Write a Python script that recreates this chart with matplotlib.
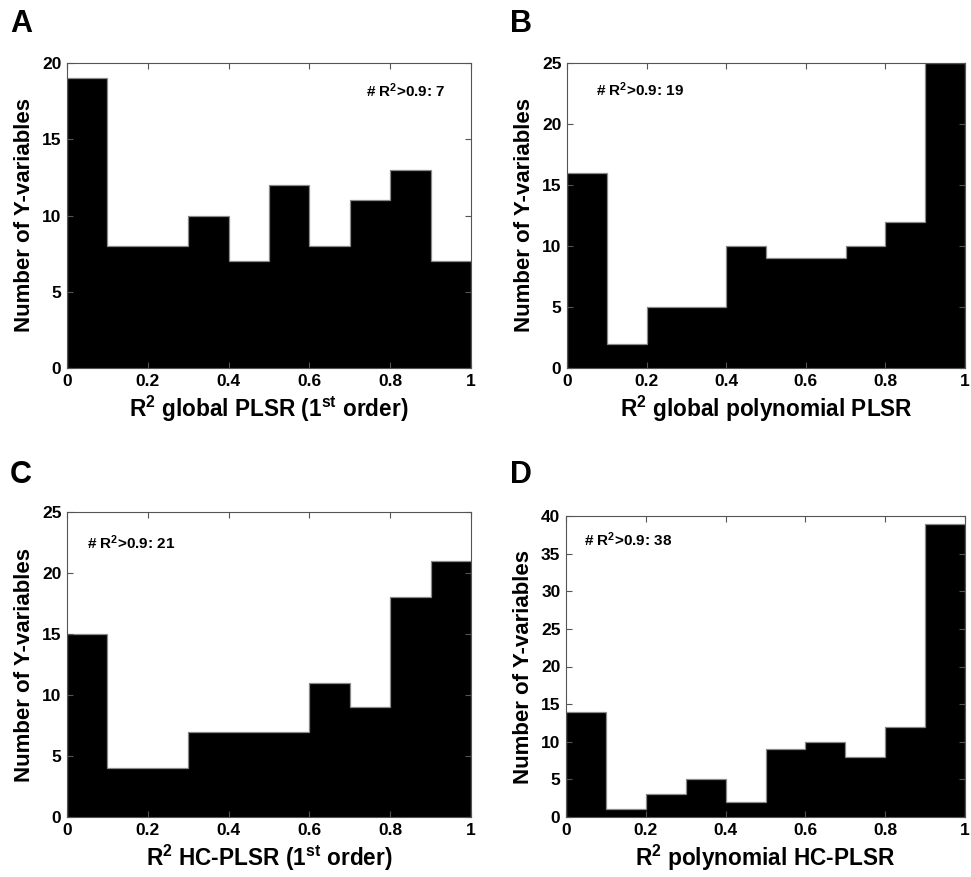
import matplotlib
matplotlib.use("Agg")
import matplotlib.pyplot as plt
import numpy as np

plt.rcParams['font.family'] = ['Liberation Sans', 'DejaVu Sans']
plt.rcParams['font.weight'] = 'bold'

bin_edges = [0.0, 0.1, 0.2, 0.3, 0.4, 0.5, 0.6, 0.7, 0.8, 0.9, 1.0]
counts_A = [19, 8, 8, 10, 7, 12, 8, 11, 13, 7]
counts_B = [16, 2, 5, 5, 10, 9, 9, 10, 12, 25]
counts_C = [15, 4, 4, 7, 7, 7, 11, 9, 18, 21]
counts_D = [14, 1, 3, 5, 2, 9, 10, 8, 12, 39]

xticks = [0, 0.2, 0.4, 0.6, 0.8, 1]
xtick_labels = ['0', '0.2', '0.4', '0.6', '0.8', '1']
yticks_A = [0, 5, 10, 15, 20]
yticks_B = [0, 5, 10, 15, 20, 25]
yticks_C = [0, 5, 10, 15, 20, 25]
yticks_D = [0, 5, 10, 15, 20, 25, 30, 35, 40]

xlabels = [r'R$^{\mathbf{2}}$ global PLSR (1$^{\mathbf{st}}$ order)',
           r'R$^{\mathbf{2}}$ global polynomial PLSR',
           r'R$^{\mathbf{2}}$ HC-PLSR (1$^{\mathbf{st}}$ order)',
           r'R$^{\mathbf{2}}$ polynomial HC-PLSR']
annots = [r'# R$^{\mathbf{2}}$>0.9: 7', r'# R$^{\mathbf{2}}$>0.9: 19',
          r'# R$^{\mathbf{2}}$>0.9: 21', r'# R$^{\mathbf{2}}$>0.9: 38']
letters = ['A', 'B', 'C', 'D']

plt.rcParams['mathtext.fontset'] = 'custom'
plt.rcParams['mathtext.rm'] = 'Liberation Sans:bold'
plt.rcParams['mathtext.bf'] = 'Liberation Sans:bold'
plt.rcParams['mathtext.default'] = 'bf'

W, H = 971, 877
fig = plt.figure(figsize=(W / 100, H / 100), dpi=100)

# axes boxes in pixel (left, top, right, bottom)
boxes = [(67, 63, 471, 368), (567, 63, 965, 368), (67, 512, 471, 817), (566, 516, 965, 817)]
counts_all = [counts_A, counts_B, counts_C, counts_D]
yticks_all = [yticks_A, yticks_B, yticks_C, yticks_D]
annot_pos = [(0.74, 18.2), (0.072, 22.8), (0.05, 22.5), (0.045, 36.8)]
letter_pos = [(10, 32), (510, 32), (10, 483), (510, 483)]

for i in range(4):
    l, t, r, b = boxes[i]
    ax = fig.add_axes([l / W, 1 - b / H, (r - l) / W, (b - t) / H])
    ax.stairs(counts_all[i], bin_edges, fill=True, color='black')
    ax.stairs(counts_all[i], bin_edges, fill=False, color='#8a8a8a', linewidth=0.9)
    ax.set_xlim(0, 1)
    ax.set_ylim(0, yticks_all[i][-1])
    ax.set_xticks(xticks)
    ax.set_xticklabels(xtick_labels)
    ax.set_yticks(yticks_all[i])
    ax.tick_params(direction='in', top=True, right=True, length=4,
                   labelsize=12.5, width=0.8, color='#555555', pad=4)
    for lab in ax.get_xticklabels() + ax.get_yticklabels():
        lab.set_fontweight('bold')
    for s in ax.spines.values():
        s.set_linewidth(0.8)
        s.set_color('#555555')
    ax.set_ylabel('Number of Y-variables', fontsize=16, fontweight='bold', labelpad=5)
    ax.set_xlabel(xlabels[i], fontsize=16.3, fontweight='bold', labelpad=4)
    ax.text(annot_pos[i][0], annot_pos[i][1], annots[i], fontsize=11,
            fontweight='bold', va='center', ha='left')
    fig.text(letter_pos[i][0] / W, 1 - letter_pos[i][1] / H, letters[i],
             fontsize=22, fontweight='bold', ha='left', va='baseline')

fig.savefig('out.png', dpi=100)
